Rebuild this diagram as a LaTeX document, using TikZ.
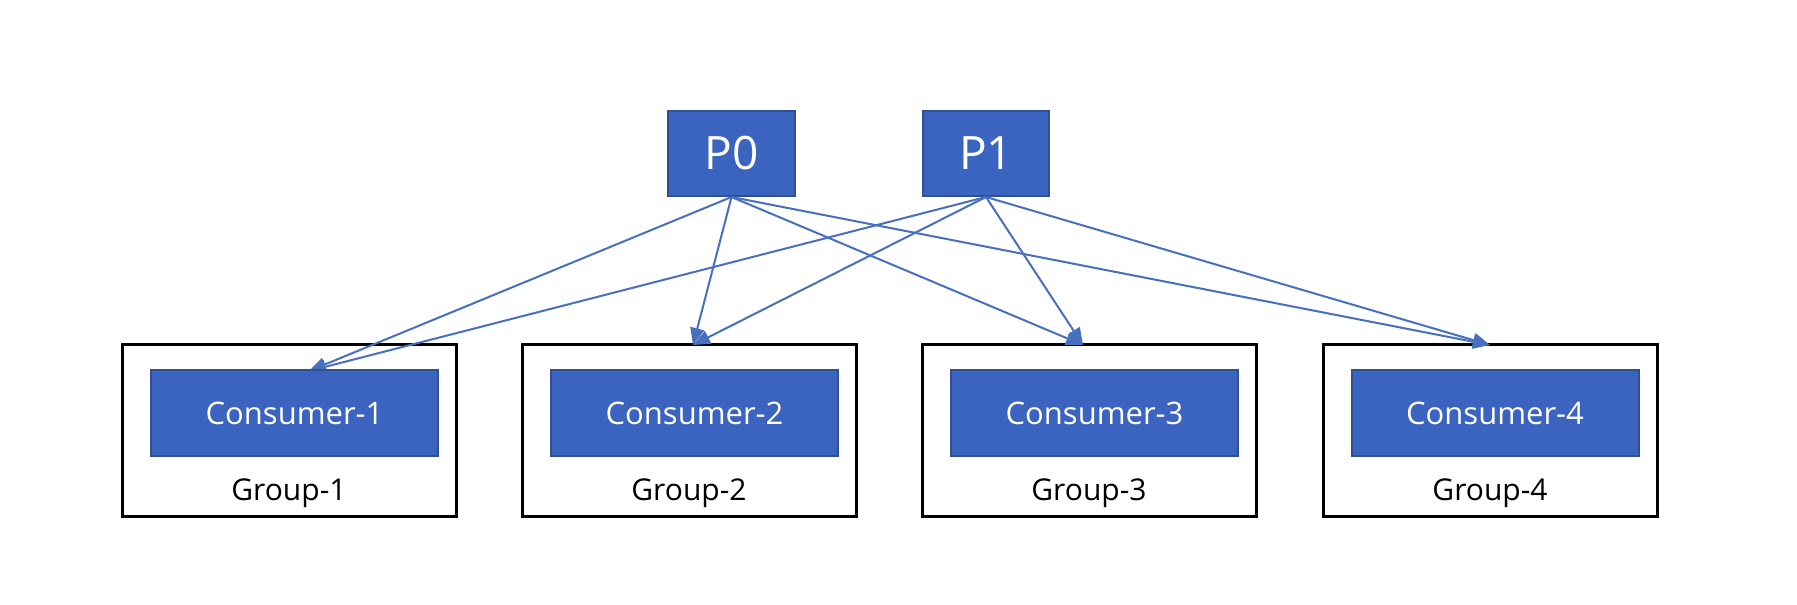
\documentclass[tikz,border=0pt]{standalone}
\usepackage{fontspec}
\setmainfont{Open Sans}
\usetikzlibrary{arrows.meta}
\definecolor{boxfill}{RGB}{59,100,192}
\definecolor{boxline}{RGB}{47,82,143}
\definecolor{arrowcol}{RGB}{72,112,192}
\tikzset{
  pbox/.style={draw=boxline, line width=2pt, fill=boxfill, text=white,
    minimum height=85pt, inner sep=0pt, font=\fontsize{46}{50}\selectfont},
  cbox/.style={draw=boxline, line width=2pt, fill=boxfill, text=white,
    minimum width=287pt, minimum height=86pt, inner sep=0pt,
    font=\fontsize{31}{36}\selectfont},
  gbox/.style={draw=black, line width=3pt, fill=white,
    minimum width=334pt, minimum height=172pt, inner sep=0pt},
  glabel/.style={text=black, inner sep=0pt, font=\fontsize{30}{34}\selectfont},
  conn/.style={draw=arrowcol, line width=2pt,
    -{Triangle[length=17pt,width=14pt]}}
}
\begin{document}
\begin{tikzpicture}[x=1pt,y=-1pt]
\fill[white] (0,0) rectangle (1797,605);
\useasboundingbox (0,0) rectangle (1797,605);

\node[pbox, minimum width=127pt] (p0) at (731.5,153.5) {P0};
\node[pbox, minimum width=126pt] (p1) at (986,153.5) {P1};

\foreach \i/\cx in {1/289,2/689,3/1089,4/1490}{
  \node[gbox] (g\i) at (\cx,430) {};
  \node[glabel] (gl\i) at (\cx,493) {Group-\i};
}

\coordinate (t1) at (309,371);
\coordinate (t2) at (693,345);
\coordinate (t3) at (1083,345);
\coordinate (t4) at (1490,345);

\foreach \i in {1,2,3,4}{
  \draw[conn] (p0.south) -- (t\i);
  \draw[conn] (p1.south) -- (t\i);
}

\foreach \i/\cx in {1/294.5,2/694.5,3/1094.5,4/1495}{
  \node[cbox] (c\i) at (\cx,413) {Consumer-\i};
}
\end{tikzpicture}
\end{document}
